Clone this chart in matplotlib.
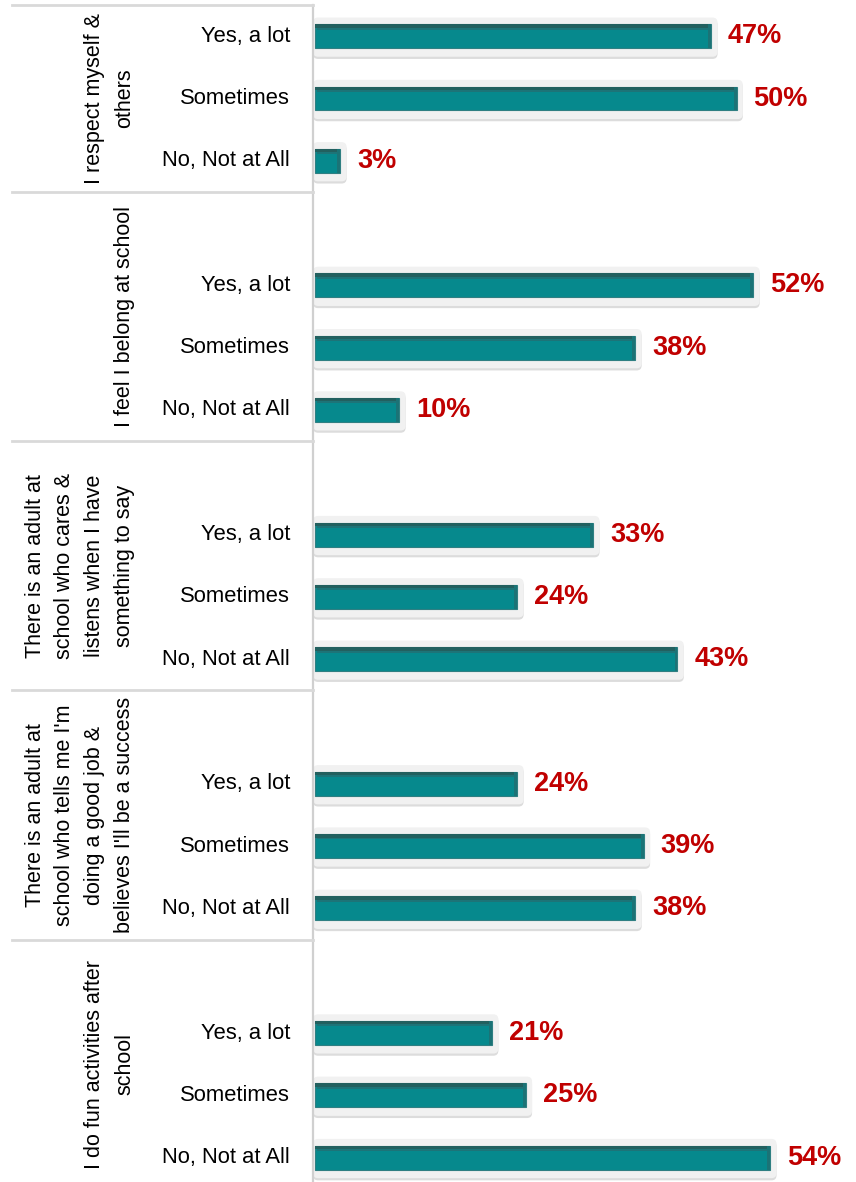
import matplotlib

matplotlib.use("Agg")
import matplotlib.pyplot as plt
import matplotlib.transforms as mtransforms
from matplotlib.lines import Line2D
from matplotlib.patches import FancyBboxPatch, Rectangle

GROUPS = [
    "I respect myself &\nothers",
    "I feel I belong at school",
    "There is an adult at\nschool who cares &\nlistens when I have\nsomething to say",
    "There is an adult at\nschool who tells me I'm\ndoing a good job &\nbelieves I'll be a success",
    "I do fun activities after\nschool",
]
RESPONSES = ["Yes, a lot", "Sometimes", "No, Not at All"]

respect = [47, 50, 3]
belong = [52, 38, 10]
adult_listens = [33, 24, 43]
adult_success = [24, 39, 38]
fun_activities = [21, 25, 54]
VALUES = [respect, belong, adult_listens, adult_success, fun_activities]

TEAL = "#06898d"
TEAL_DARK = "#22605f"
TEAL_EDGE = "#2f7f82"
RED = "#c00000"
GRID = "#d9d9d9"

SANS = ["Liberation Sans", "DejaVu Sans"]

W, H = 856, 1182
fig = plt.figure(figsize=(W / 100, H / 100), dpi=100)
ax_left = 313
ax = fig.add_axes([ax_left / W, 0, (W - ax_left) / W, 1])

# rows: first group has no blank row, the others start with one
rows = []
r = 0
spans = []
for g, vals in enumerate(VALUES):
    if g > 0:
        r += 1
    start = r - (1 if g > 0 else 0)
    for _ in vals:
        rows.append(r)
        r += 1
    spans.append((start - 0.5, r - 0.5))

px_x = 8.43
px_y = 62.3
ax.set_xlim((ax_left - 315) / px_x, (W - 315) / px_x)
ax.set_ylim((H - 36.2) / px_y, -36.2 / px_y)
ax.axis("off")

ax.plot([(ax_left - 315) / px_x] * 2, [-0.5, (H - 36.2) / px_y], color="#d0d0d0",
        lw=1.6, clip_on=False)

flat = [v for vals in VALUES for v in vals]
bar_h = 0.385
aspect = (5 / px_y) / (5 / px_x)
for row, v in zip(rows, flat):
    x0 = (ax_left - 315) / px_x
    # shadow + light backing box
    for dy, col in [(0.035, "#dcdcdc"), (0.0, "#f1f1f1")]:
        box = FancyBboxPatch((x0, row - 0.3 + dy), v - x0 + 0.75, 0.63,
                             boxstyle="round,pad=0,rounding_size=0.6",
                             mutation_aspect=aspect, fc=col, ec="none", zorder=1)
        ax.add_patch(box)
    ax.barh(row, v, height=bar_h, color=TEAL, edgecolor=TEAL_EDGE, lw=0.8, zorder=2)
    ax.add_patch(Rectangle((0, row - bar_h / 2), v, 0.055, fc=TEAL_DARK, ec="none", zorder=3))
    ax.add_patch(Rectangle((0.25, row - bar_h / 2 + 0.055), max(v - 0.5, 0.1), 0.03,
                           fc="#1d7478", ec="none", zorder=3))
    ax.add_patch(Rectangle((max(v - 0.35, 0), row - bar_h / 2), 0.35, bar_h,
                           fc="#1b7376", ec="none", zorder=3))
    ax.text(v + 2.0, row, f"{v}%", color=RED, fontsize=19.5, fontweight="bold",
            family=SANS, va="center", ha="left")

blend = mtransforms.blended_transform_factory(fig.transFigure, ax.transData)
for row, lab in zip(rows, RESPONSES * len(VALUES)):
    fig.text(290 / W, row, lab, transform=blend, ha="right", va="center",
             fontsize=15.8, family=SANS, color="black")

for g, (top, bot) in enumerate(spans):
    fig.text(135 / W, (top + bot) / 2, GROUPS[g], transform=blend, rotation=90,
             ha="right", va="center", multialignment="center", fontsize=15.5,
             family=SANS, color="black", linespacing=1.55)
    fig.add_artist(Line2D([12 / W, ax_left / W], [top, top], transform=blend,
                          color=GRID, lw=2))

fig.savefig("out.png", dpi=100)
